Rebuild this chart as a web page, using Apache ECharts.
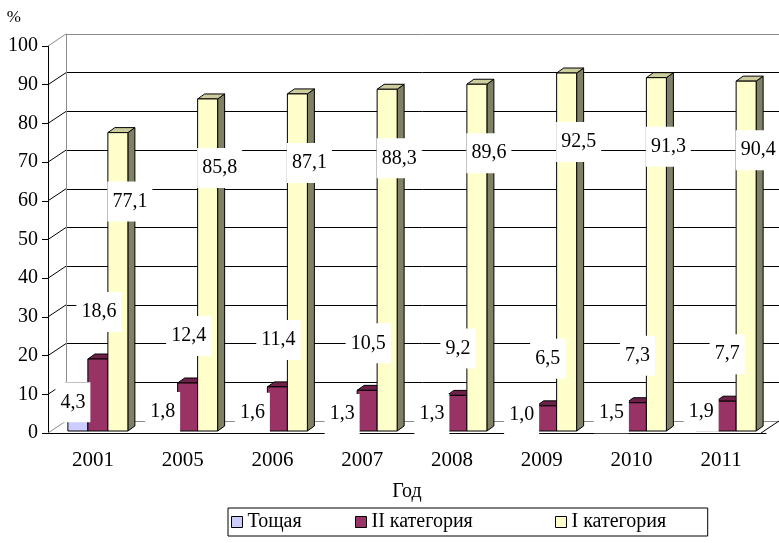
<!DOCTYPE html>
<html>
<head>
<meta charset="utf-8">
<script src="https://cdn.jsdelivr.net/npm/echarts@6/dist/echarts.min.js"></script>
<style>
html,body{margin:0;padding:0;background:#fff;}
#chart{width:779px;height:543px;}
</style>
</head>
<body>
<div id="chart"></div>
<script>
// ---- data ----
var categories = ['2001', '2005', '2006', '2007', '2008', '2009', '2010', '2011'];
var seriesNames = ['Тощая', 'II категория', 'I категория'];
var toshaya = [4.3, 1.8, 1.6, 1.3, 1.3, 1.0, 1.5, 1.9];
var cat2 = [18.6, 12.4, 11.4, 10.5, 9.2, 6.5, 7.3, 7.7];
var cat1 = [77.1, 85.8, 87.1, 88.3, 89.6, 92.5, 91.3, 90.4];
var yTicks = [0, 10, 20, 30, 40, 50, 60, 70, 80, 90, 100];

// ---- styles ----
var FONT = 'Liberation Serif';
var faces = [
  {front: '#ccccff', top: '#a3a3cc', side: '#8585a8'},
  {front: '#993366', top: '#6e2148', side: '#4d1733'},
  {front: '#ffffcc', top: '#cccc9c', side: '#808066'}
];
var DX = 18, DY = 12;      // depth of the plot box
var BDX = 7, BDY = 5;      // depth of a bar
var BAR_W = 20;
var legendLefts = [228, 355, 555];
var legendFrameRightPad = 406;

var allValues = [toshaya, cat2, cat1];

function fmt(v) { return v.toFixed(1).replace('.', ','); }

function barSeries(k) {
  return {
    type: 'custom',
    name: seriesNames[k],
    xAxisIndex: 2, yAxisIndex: 2,
    z: 3 + k,
    clip: false,
    itemStyle: {color: faces[k].front, borderColor: '#000', borderWidth: 1},
    data: allValues[k].map(function (v, i) { return [i, v]; }),
    renderItem: function (params, api) {
      var c = api.coord([api.value(0), api.value(1)]);
      var b = api.coord([api.value(0), 0]);
      var x0 = c[0] - 25 + BAR_W * k, x1 = x0 + BAR_W;
      var top = c[1], bot = b[1];
      var st = {stroke: '#000', lineWidth: 1};
      return {
        type: 'group',
        children: [
          {type: 'polygon', shape: {points: [[x1, top], [x1 + BDX, top - BDY], [x1 + BDX, bot - BDY], [x1, bot]]},
           style: Object.assign({fill: faces[k].side}, st)},
          {type: 'polygon', shape: {points: [[x0, top], [x1, top], [x1 + BDX, top - BDY], [x0 + BDX, top - BDY]]},
           style: Object.assign({fill: faces[k].top}, st)},
          {type: 'rect', shape: {x: x0, y: top, width: BAR_W, height: bot - top},
           style: Object.assign({fill: faces[k].front}, st)}
        ]
      };
    }
  };
}

var labelData = [];
allValues.forEach(function (arr, k) {
  arr.forEach(function (v, i) { labelData.push([i, v, k]); });
});

var legendText = {fontFamily: FONT, fontSize: 20, color: '#000'};
var legends = seriesNames.map(function (name, k) {
  return {
    left: legendLefts[k], top: 508,
    itemWidth: 11, itemHeight: 11, itemGap: 0,
    padding: k === 0 ? [4, legendFrameRightPad, 4, 3] : [4, 0, 4, 0],
    borderColor: '#000', borderWidth: k === 0 ? 1 : 0,
    icon: 'rect',
    itemStyle: {borderColor: '#000', borderWidth: 1},
    textStyle: legendText,
    data: [name]
  };
});

var option = {
  backgroundColor: '#fff',
  animation: false,
  legend: legends,
  grid: [
    {left: 48, top: 46, width: 718, height: 387},   // front axes
    {left: 66, top: 34, width: 718, height: 387},   // back wall
    {left: 48, top: 44, width: 718, height: 387}    // bars
  ],
  xAxis: [
    {gridIndex: 0, type: 'category', data: categories,
     axisLine: {lineStyle: {color: '#000', width: 1}}, axisTick: {show: false},
     axisLabel: {color: '#000', fontFamily: FONT, fontSize: 21, margin: 17},
     name: 'Год', nameLocation: 'middle', nameGap: 49,
     nameTextStyle: {color: '#000', fontFamily: FONT, fontSize: 20}},
    {gridIndex: 1, type: 'value', min: 0, max: 1, show: false},
    {gridIndex: 2, type: 'category', data: categories, show: false}
  ],
  yAxis: [
    {gridIndex: 0, type: 'value', min: 0, max: 100, interval: 10,
     name: '%', nameLocation: 'end', nameGap: 28,
     nameTextStyle: {color: '#000', fontFamily: FONT, fontSize: 17, align: 'right', verticalAlign: 'middle', padding: [0, 27, 0, 0]},
     axisLine: {show: true, lineStyle: {color: '#000', width: 1}},
     axisTick: {show: true, length: 6, lineStyle: {color: '#000'}},
     axisLabel: {color: '#000', fontFamily: FONT, fontSize: 20, margin: 10},
     splitLine: {show: false}},
    {gridIndex: 1, type: 'value', min: 0, max: 100, interval: 10,
     axisLine: {show: true, lineStyle: {color: '#8c8c8c', width: 1}},
     axisTick: {show: false}, axisLabel: {show: false},
     splitLine: {show: true, lineStyle: {color: ['#8c8c8c', '#000', '#000', '#000', '#000', '#000', '#000', '#000', '#000', '#000', '#8c8c8c'], width: 1}}},
    {gridIndex: 2, type: 'value', min: 0, max: 100, show: false}
  ],
  series: [
    {
      type: 'custom', name: 'side', xAxisIndex: 1, yAxisIndex: 1, z: 1, clip: false,
      data: yTicks.map(function (t) { return [0, t]; }),
      renderItem: function (params, api) {
        var p = api.coord([0, api.value(1)]);
        var v = api.value(1);
        return {type: 'line', shape: {x1: p[0], y1: p[1], x2: p[0] - DX, y2: p[1] + DY},
                style: {stroke: (v === 0 || v === 100) ? '#8c8c8c' : '#000', lineWidth: 1}};
      }
    },
    {
      type: 'custom', name: 'floor', xAxisIndex: 1, yAxisIndex: 1, z: 1, clip: false,
      data: [[1, 0]],
      renderItem: function (params, api) {
        var p = api.coord([1, 0]);
        return {type: 'line', shape: {x1: p[0], y1: p[1], x2: p[0] - DX, y2: p[1] + DY},
                style: {stroke: '#000', lineWidth: 1}};
      }
    },
    barSeries(0), barSeries(1), barSeries(2),
    {
      type: 'custom', name: 'labels', xAxisIndex: 2, yAxisIndex: 2, z: 10, clip: false,
      data: labelData,
      renderItem: function (params, api) {
        var k = api.value(2), v = api.value(1);
        var c = api.coord([api.value(0), v]);
        var x0 = c[0] - 25 + BAR_W * k;
        var lx, ly;
        if (k === 2) { lx = x0 + 22; ly = c[1] + 69; }
        else if (k === 1) { lx = x0 + 11; ly = c[1] - 47; }
        else { lx = x0 + 5; ly = c[1] - 12; }
        return {
          type: 'text', x: lx, y: ly,
          style: {text: fmt(v), fill: '#000', font: '20px "' + FONT + '"', align: 'center', verticalAlign: 'middle',
                  backgroundColor: '#fff', padding: [10, 5]}
        };
      }
    }
  ]
};

var chart = echarts.init(document.getElementById('chart'));
chart.setOption(option);
</script>
</body>
</html>
